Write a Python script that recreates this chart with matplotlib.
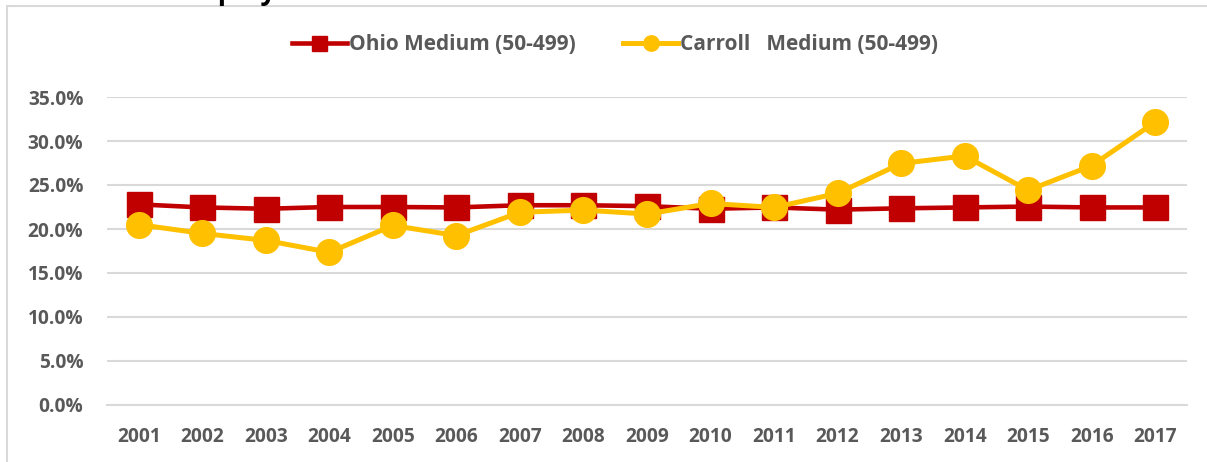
import matplotlib
matplotlib.use("Agg")
import matplotlib.pyplot as plt
from matplotlib.patches import Rectangle
from matplotlib.ticker import FuncFormatter

plt.rcParams['font.family'] = ['Open Sans', 'DejaVu Sans']

# Data
years = ["2001", "2002", "2003", "2004", "2005", "2006", "2007", "2008", "2009",
         "2010", "2011", "2012", "2013", "2014", "2015", "2016", "2017"]
ohio_medium = [22.8, 22.45, 22.3, 22.5, 22.5, 22.45, 22.7, 22.7, 22.6,
               22.3, 22.45, 22.2, 22.35, 22.45, 22.55, 22.45, 22.45]
carroll_medium = [20.5, 19.5, 18.7, 17.35, 20.4, 19.25, 21.9, 22.15, 21.7,
                  22.9, 22.45, 24.05, 27.45, 28.3, 24.4, 27.2, 32.15]
y_ticks = [0, 5, 10, 15, 20, 25, 30, 35]

red = "#C00000"
gold = "#FFC000"
gray_text = "#595959"

fig = plt.figure(figsize=(12.07, 4.62), dpi=100)
ax = fig.add_axes([107 / 1207, 57 / 462, 1080 / 1207, 308 / 462])

x = range(len(years))
ax.plot(x, ohio_medium, color=red, lw=3.3, marker="s", markersize=18,
        label="Ohio Medium (50-499)", zorder=3)
ax.plot(x, carroll_medium, color=gold, lw=3.6, marker="o", markersize=18.5,
        label="Carroll   Medium (50-499)", zorder=4)

ax.set_xlim(-0.5, len(years) - 0.5)
ax.set_ylim(0, 35)
ax.set_xticks(list(x))
ax.set_xticklabels(years)
ax.set_yticks(y_ticks)
ax.yaxis.set_major_formatter(FuncFormatter(lambda v, p: f"{v:.1f}%"))
ax.grid(axis="y", color="#D9D9D9", lw=1.5)
ax.set_axisbelow(True)
for s in ax.spines.values():
    s.set_visible(False)
ax.spines["bottom"].set_visible(True)
ax.spines["bottom"].set_color("#D9D9D9")
ax.spines["bottom"].set_linewidth(1.5)
ax.tick_params(length=0, labelsize=13.8, labelcolor=gray_text)
ax.tick_params(axis="y", pad=17)
ax.tick_params(axis="x", pad=16)
for lab in ax.get_xticklabels() + ax.get_yticklabels():
    lab.set_fontweight("bold")

leg = fig.legend(loc="center", bbox_to_anchor=(615 / 1207, 1 - 45 / 462), ncol=2,
                 frameon=False, handlelength=2.64, handletextpad=0.1,
                 columnspacing=2.3, markerscale=0.6,
                 prop={"weight": "bold", "size": 15})
for t in leg.get_texts():
    t.set_color(gray_text)

# chart area border
fig.patches.append(Rectangle((7 / 1207, -0.05), 1.1, 1 - 6 / 462 + 0.05,
                             transform=fig.transFigure, fill=False,
                             edgecolor="#D9D9D9", lw=1.5))

# title sits above the crop, only the descenders show
fig.text(176 / 1207, 1 + 1 / 462, "Employment", fontsize=20, fontweight="bold",
         color="black", va="baseline", ha="left")

fig.savefig("out.png", dpi=100)
